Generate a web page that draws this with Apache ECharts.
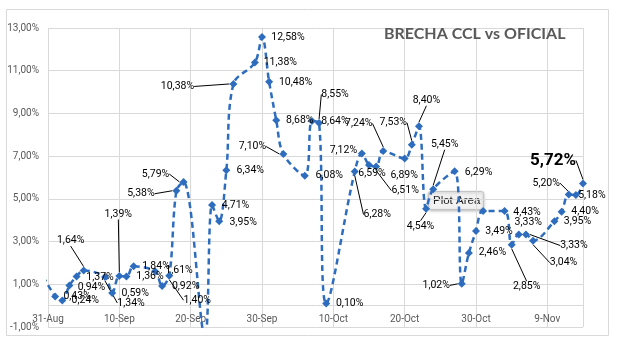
<!DOCTYPE html>
<html><head><meta charset="utf-8">
<script src="https://cdn.jsdelivr.net/npm/echarts@6/dist/echarts.min.js"></script>
<style>html,body{margin:0;padding:0;background:#fff}#c{width:627px;height:349px}</style>
</head><body><div id="c"></div>
<script>
const baseDate = '2025-08-31';
const dates = ['2025-08-29',
 '2025-09-01','2025-09-02','2025-09-03','2025-09-04','2025-09-05',
 '2025-09-08','2025-09-09','2025-09-10','2025-09-11','2025-09-12',
 '2025-09-15','2025-09-16','2025-09-17','2025-09-18','2025-09-19',
 '2025-09-22','2025-09-23','2025-09-24','2025-09-25','2025-09-26',
 '2025-09-29','2025-09-30','2025-10-01','2025-10-02','2025-10-03',
 '2025-10-06','2025-10-07','2025-10-08','2025-10-09',
 '2025-10-13','2025-10-14','2025-10-15','2025-10-16','2025-10-17',
 '2025-10-20','2025-10-21','2025-10-22','2025-10-23','2025-10-24',
 '2025-10-27','2025-10-28','2025-10-29','2025-10-30','2025-10-31',
 '2025-11-03','2025-11-04','2025-11-05','2025-11-06','2025-11-07',
 '2025-11-10','2025-11-11','2025-11-12','2025-11-13','2025-11-14'];
const brecha = [2.2,
 0.43,0.24,0.94,1.37,1.64,
 1.34,0.59,1.39,1.36,1.84,
 1.61,0.92,1.40,5.38,5.79,
 -1.5,4.71,3.95,6.34,10.38,
 11.38,12.58,10.48,8.68,7.10,
 6.08,8.64,8.55,0.10,
 6.28,7.12,6.59,6.51,7.24,
 6.89,7.53,8.40,4.54,5.45,
 6.29,1.02,2.46,3.49,4.43,
 4.43,2.85,3.33,3.33,3.04,
 3.95,4.40,5.20,5.18,5.72];
const xTickLabels = ['31-Aug','10-Sep','20-Sep','30-Sep','10-Oct','20-Oct','30-Oct','9-Nov'];
const titleText = 'BRECHA CCL vs OFICIAL';
const zeroLine = 0;

// label placement (offset of label centre from its point), styling only
const labelOffsets = [null,
 [22,0],[23,0],[22,1.5],[23.5,1],[-13,-30],
 [26,26],[23,0],[-1,-62],[23.5,0],[22.5,0],
 [24,-1],[23.5,0],[28,24.5],[-35.5,3],[-28,-8],
 null,[23.5,0],[24,1],[24,0],[-56,2.5],
 [25.5,0],[26,0.5],[26.5,0.5],[23.5,0],[-31,-7.5],
 [24.5,0],[23,0],[16,-28.5],[23.5,0],
 [22.5,43],[-18.5,-3],[3,8],[29,24],[-24.5,-27.5],
 [-0.5,17],[-18.5,-22],[7.5,-26],[-5.5,17.5],[11.5,-45],
 [24,1],[-25.5,1.5],[23.5,-0.5],[23,0],null,
 [22.5,1],[15,42],[9.5,-12],[48,11],[30.5,22],
 [23,0],[23.5,0],[-22.5,-11.5],[16,0],[-30,-23]];
const leaderIdx = [5,6,8,13,14,15,20,25,28,30,33,34,36,37,38,39,41,46,48,49,52,54];
const highlightIdx = 54;

const fmtPct = v => v.toFixed(2).replace('.', ',') + '%';
const dayOf = d => (Date.parse(d) - Date.parse(baseDate)) / 864e5;
const blue = '#2E6DBE';

const seriesData = dates.map((d, i) => {
  const item = { value: [dayOf(d), brecha[i]] };
  if (!labelOffsets[i]) item.label = { show: false };
  if (leaderIdx.includes(i)) item.labelLine = { show: true };
  if (i === highlightIdx) item.label = { fontSize: 17, fontWeight: 'bold' };
  return item;
});

const chart = echarts.init(document.getElementById('c'), null, { renderer: 'canvas' });
chart.setOption({
  backgroundColor: '#fff',
  animation: false,
  title: {
    text: titleText, left: 379, top: 21,
    textStyle: { fontFamily: 'Lato', fontWeight: 'bold', fontSize: 16, color: '#595959' }
  },
  grid: { left: 48, right: 44, top: 28, bottom: 22, containLabel: false },
  xAxis: {
    type: 'value', min: 0, max: 75, interval: 10,
    axisLine: { show: false, onZero: false },
    axisTick: { show: false },
    axisLabel: {
      show: true, margin: -12.5, color: '#595959', fontFamily: 'Roboto', fontSize: 10,
      showMaxLabel: false,
      formatter: v => (v % 10 === 0 && xTickLabels[v / 10] !== undefined) ? xTickLabels[v / 10] : ''
    },
    splitLine: { show: true, lineStyle: { color: '#d9d9d9', width: 1 } }
  },
  yAxis: {
    type: 'value', min: -1, max: 13, interval: 1,
    axisLine: { show: false, onZero: false }, axisTick: { show: false },
    axisLabel: {
      margin: 9, color: '#595959', fontFamily: 'Roboto', fontSize: 10,
      formatter: v => (Math.round(v) % 2 !== 0) ? fmtPct(v) : ''
    },
    splitLine: { show: true, lineStyle: { color: ['#d9d9d9', 'rgba(0,0,0,0)'], width: 1 } }
  },
  series: [{
    type: 'line',
    data: seriesData,
    smooth: 0.35,
    clip: true,
    symbol: 'diamond', symbolSize: 8, showAllSymbol: true,
    lineStyle: { color: blue, width: 2.5, type: [6, 4] },
    itemStyle: { color: blue },
    label: {
      show: true, position: 'inside', color: '#000', fontFamily: 'Roboto', fontSize: 10.5,
      formatter: p => fmtPct(p.value[1])
    },
    labelLine: { show: false, lineStyle: { color: '#000', width: 1 } },
    labelLayout: p => {
      const o = labelOffsets[p.dataIndex] || [0, 0];
      return { dx: o[0], dy: o[1] };
    },
    markLine: {
      silent: true, symbol: 'none', animation: false,
      label: { show: false },
      lineStyle: { color: '#d9d9d9', width: 1, type: 'solid' },
      data: [{ yAxis: zeroLine }],
      z: 1
    },
    z: 3
  }],
  graphic: [
    { type: 'rect', z: -10, shape: { x: 6.5, y: 9.5, width: 602, height: 326 },
      style: { fill: 'none', stroke: '#d9d9d9', lineWidth: 1 } },
    { type: 'group', x: 428.5, y: 191.5, z: 100, children: [
      { type: 'rect', shape: { x: 0, y: 0, width: 55, height: 18, r: 2 },
        style: { fill: '#f2f2f2', stroke: '#c4c4c4', lineWidth: 1, shadowBlur: 3, shadowColor: 'rgba(0,0,0,0.25)', shadowOffsetY: 1 } },
      { type: 'text', x: 4.5, y: 9.5,
        style: { text: 'Plot Area', fontFamily: 'Liberation Sans', fontSize: 11.5, fill: '#222', verticalAlign: 'middle' } }
    ] }
  ]
});
</script></body></html>
